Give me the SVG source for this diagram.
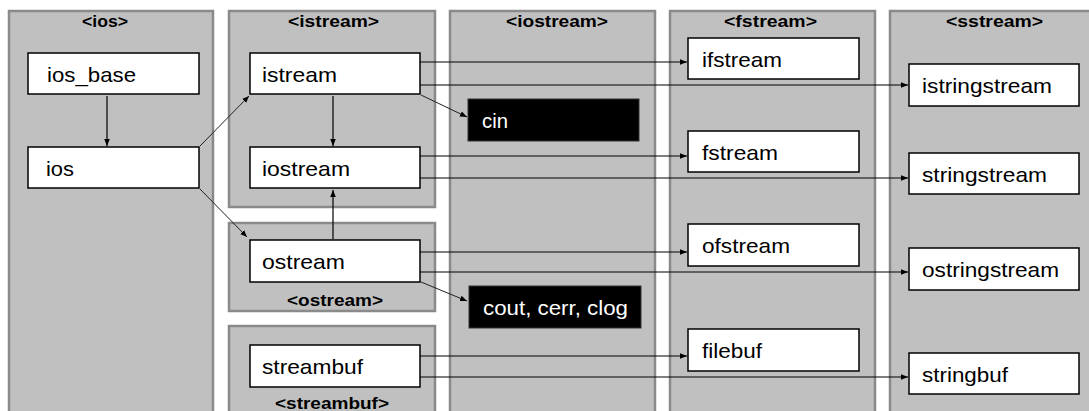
<svg xmlns="http://www.w3.org/2000/svg" width="1089" height="411" viewBox="0 0 1089 411">
<style>
.panel{fill:#c0c0c0;stroke:#8a8a8a;stroke-width:2.5}
.box{fill:#ffffff;stroke:#000;stroke-width:1.5}
.dark{fill:#000;stroke:#333;stroke-width:1}
.t{font-family:"Liberation Sans",Arial,sans-serif;font-size:21px;fill:#000}
.tw{font-family:"Liberation Sans",Arial,sans-serif;font-size:21px;fill:#fff}
.h{font-family:"Liberation Sans",Arial,sans-serif;font-size:16px;font-weight:bold;fill:#000}
.c{stroke:#000;stroke-width:1.2;fill:none;marker-end:url(#ah)}
.d{stroke:#222;stroke-width:1;fill:none;marker-end:url(#ah)}
</style>
<defs>
<marker id="ah" viewBox="0 0 10 10" refX="10" refY="5" markerWidth="7" markerHeight="7" markerUnits="userSpaceOnUse" orient="auto">
<path d="M0,1 L10,5 L0,9 z" fill="#000"/>
</marker>
</defs>
<rect width="1089" height="411" fill="#ffffff"/>
<g id="panel-ios"><rect class="panel" x="9" y="11" width="204" height="410"/><text class="h" x="82" y="27" textLength="46" lengthAdjust="spacingAndGlyphs">&lt;ios&gt;</text></g>
<g id="panel-istream"><rect class="panel" x="229" y="11" width="206" height="196"/><text class="h" x="288" y="27" textLength="91" lengthAdjust="spacingAndGlyphs">&lt;istream&gt;</text></g>
<g id="panel-ostream"><rect class="panel" x="229" y="223" width="206" height="88"/><text class="h" x="287" y="306" textLength="96" lengthAdjust="spacingAndGlyphs">&lt;ostream&gt;</text></g>
<g id="panel-streambuf"><rect class="panel" x="229" y="326" width="206" height="95"/><text class="h" x="275" y="409" textLength="114" lengthAdjust="spacingAndGlyphs">&lt;streambuf&gt;</text></g>
<g id="panel-iostream"><rect class="panel" x="450" y="11" width="205" height="410"/><text class="h" x="506" y="27" textLength="102" lengthAdjust="spacingAndGlyphs">&lt;iostream&gt;</text></g>
<g id="panel-fstream"><rect class="panel" x="670" y="11" width="205" height="410"/><text class="h" x="724" y="27" textLength="93" lengthAdjust="spacingAndGlyphs">&lt;fstream&gt;</text></g>
<g id="panel-sstream"><rect class="panel" x="890" y="11" width="210" height="410"/><text class="h" x="946" y="27" textLength="97" lengthAdjust="spacingAndGlyphs">&lt;sstream&gt;</text></g>

<g id="connectors">
<line class="c" x1="107" y1="96" x2="107" y2="146"/>
<line class="d" x1="200" y1="146" x2="249" y2="96"/>
<line class="d" x1="200" y1="189" x2="247" y2="237"/>
<line class="c" x1="333" y1="96" x2="333" y2="146"/>
<line class="c" x1="333" y1="239" x2="333" y2="190"/>
<line class="c" x1="420" y1="62" x2="687" y2="62"/>
<line class="c" x1="420" y1="85" x2="908" y2="85"/>
<line class="d" x1="421" y1="95" x2="467" y2="117"/>
<line class="c" x1="420" y1="156" x2="687" y2="156"/>
<line class="c" x1="420" y1="178" x2="908" y2="178"/>
<line class="c" x1="420" y1="252" x2="687" y2="252"/>
<line class="c" x1="420" y1="272" x2="908" y2="272"/>
<line class="d" x1="421" y1="282" x2="467" y2="301"/>
<line class="c" x1="420" y1="356" x2="687" y2="356"/>
<line class="c" x1="420" y1="377" x2="908" y2="377"/>
</g>

<g id="ios_base"><rect class="box" x="28" y="53" width="171" height="41"/><text class="t" x="47" y="82" textLength="89" lengthAdjust="spacingAndGlyphs">ios_base</text></g>
<g id="ios"><rect class="box" x="28" y="147" width="171" height="41"/><text class="t" x="46" y="176" textLength="28" lengthAdjust="spacingAndGlyphs">ios</text></g>
<g id="istream"><rect class="box" x="250" y="53" width="170" height="41"/><text class="t" x="262" y="82" textLength="75" lengthAdjust="spacingAndGlyphs">istream</text></g>
<g id="iostream"><rect class="box" x="250" y="147" width="170" height="41"/><text class="t" x="262" y="176" textLength="88" lengthAdjust="spacingAndGlyphs">iostream</text></g>
<g id="ostream"><rect class="box" x="250" y="240" width="170" height="42"/><text class="t" x="262" y="269" textLength="83" lengthAdjust="spacingAndGlyphs">ostream</text></g>
<g id="streambuf"><rect class="box" x="250" y="345" width="170" height="42"/><text class="t" x="262" y="374" textLength="101" lengthAdjust="spacingAndGlyphs">streambuf</text></g>
<g id="cin"><rect class="dark" x="468" y="99" width="171" height="42"/><text class="tw" x="482" y="128" textLength="26" lengthAdjust="spacingAndGlyphs">cin</text></g>
<g id="cout"><rect class="dark" x="469" y="286" width="172" height="42"/><text class="tw" x="483" y="315" textLength="145" lengthAdjust="spacingAndGlyphs">cout, cerr, clog</text></g>
<g id="ifstream"><rect class="box" x="688" y="38" width="171" height="41"/><text class="t" x="702" y="67" textLength="80" lengthAdjust="spacingAndGlyphs">ifstream</text></g>
<g id="fstream"><rect class="box" x="688" y="131" width="171" height="41"/><text class="t" x="702" y="160" textLength="76" lengthAdjust="spacingAndGlyphs">fstream</text></g>
<g id="ofstream"><rect class="box" x="688" y="224" width="171" height="42"/><text class="t" x="702" y="253" textLength="88" lengthAdjust="spacingAndGlyphs">ofstream</text></g>
<g id="filebuf"><rect class="box" x="688" y="329" width="171" height="42"/><text class="t" x="702" y="358" textLength="60" lengthAdjust="spacingAndGlyphs">filebuf</text></g>
<g id="istringstream"><rect class="box" x="909" y="64" width="170" height="42"/><text class="t" x="922" y="93" textLength="130" lengthAdjust="spacingAndGlyphs">istringstream</text></g>
<g id="stringstream"><rect class="box" x="909" y="153" width="170" height="41"/><text class="t" x="922" y="182" textLength="125" lengthAdjust="spacingAndGlyphs">stringstream</text></g>
<g id="ostringstream"><rect class="box" x="909" y="248" width="170" height="42"/><text class="t" x="922" y="277" textLength="137" lengthAdjust="spacingAndGlyphs">ostringstream</text></g>
<g id="stringbuf"><rect class="box" x="909" y="353" width="170" height="41"/><text class="t" x="922" y="382" textLength="86" lengthAdjust="spacingAndGlyphs">stringbuf</text></g>
</svg>
